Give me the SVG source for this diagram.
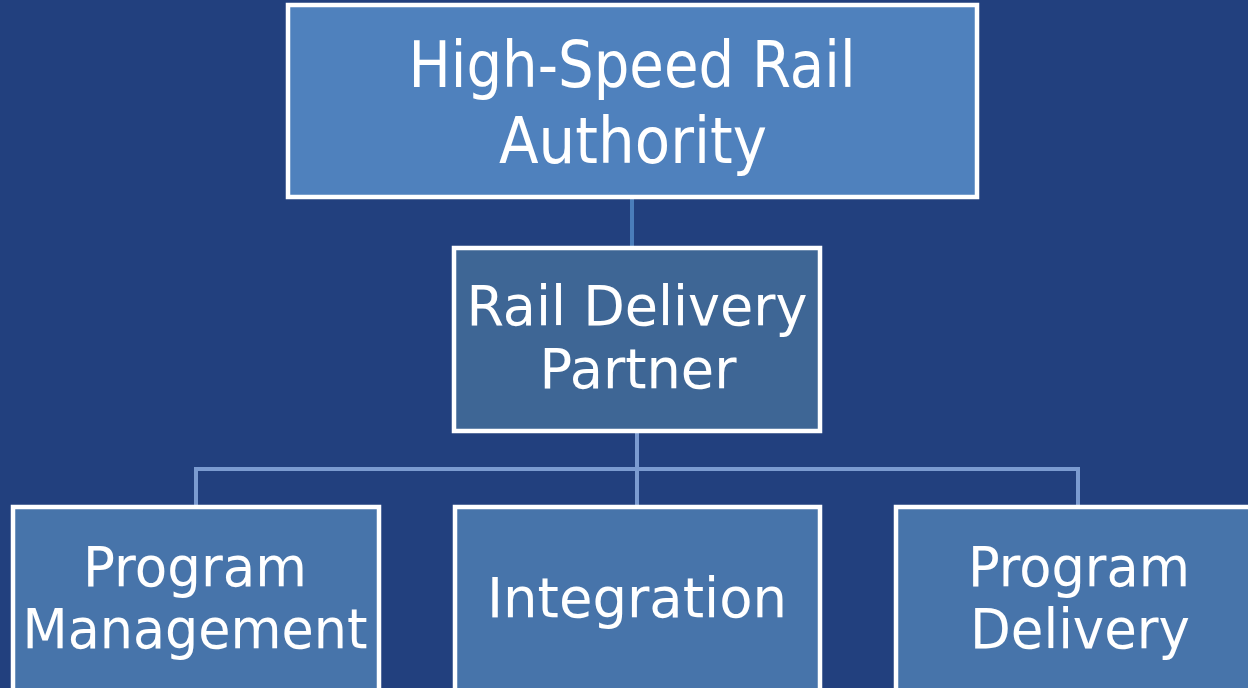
<svg xmlns="http://www.w3.org/2000/svg" width="1248" height="688" viewBox="0 0 1248 688">
<style>
.box{stroke:#ffffff;stroke-width:4.5}
.t{font-family:"DejaVu Sans","Noto Sans",sans-serif;fill:#ffffff;text-anchor:middle}
.c1{stroke:#4A7DBA;stroke-width:4;fill:none}
.c2{stroke:#7B9BD0;stroke-width:4;fill:none}
</style>
<rect x="0" y="0" width="1248" height="688" fill="#22407E"/>
<g id="connectors">
<line class="c1" x1="632" y1="197" x2="632" y2="248"/>
<path class="c2" d="M637 432 V507 M196 507 V469 H1078 V507"/>
</g>
<g id="hsr">
<rect class="box" x="288" y="5" width="689" height="192" fill="#4F81BD"/>
<text class="t" x="632" y="87" font-size="64" textLength="447" lengthAdjust="spacingAndGlyphs">High-Speed Rail</text>
<text class="t" x="633" y="163" font-size="64" textLength="268" lengthAdjust="spacingAndGlyphs">Authority</text>
</g>
<g id="rdp">
<rect class="box" x="454" y="248" width="366" height="183" fill="#3E6695"/>
<text class="t" x="637" y="325" font-size="56" textLength="341" lengthAdjust="spacingAndGlyphs">Rail Delivery</text>
<text class="t" x="638" y="388" font-size="56" textLength="197" lengthAdjust="spacingAndGlyphs">Partner</text>
</g>
<g id="pm">
<rect class="box" x="13" y="507" width="366" height="200" fill="#4774AA"/>
<text class="t" x="195" y="586" font-size="55" textLength="224" lengthAdjust="spacingAndGlyphs">Program</text>
<text class="t" x="195" y="648" font-size="55" textLength="345" lengthAdjust="spacingAndGlyphs">Management</text>
</g>
<g id="integration">
<rect class="box" x="455" y="507" width="365" height="200" fill="#4774AA"/>
<text class="t" x="637" y="617" font-size="55" textLength="300" lengthAdjust="spacingAndGlyphs">Integration</text>
</g>
<g id="pd">
<rect class="box" x="896" y="507" width="370" height="200" fill="#4774AA"/>
<text class="t" x="1079" y="586" font-size="55" textLength="222" lengthAdjust="spacingAndGlyphs">Program</text>
<text class="t" x="1080" y="648" font-size="55" textLength="220" lengthAdjust="spacingAndGlyphs">Delivery</text>
</g>
</svg>
